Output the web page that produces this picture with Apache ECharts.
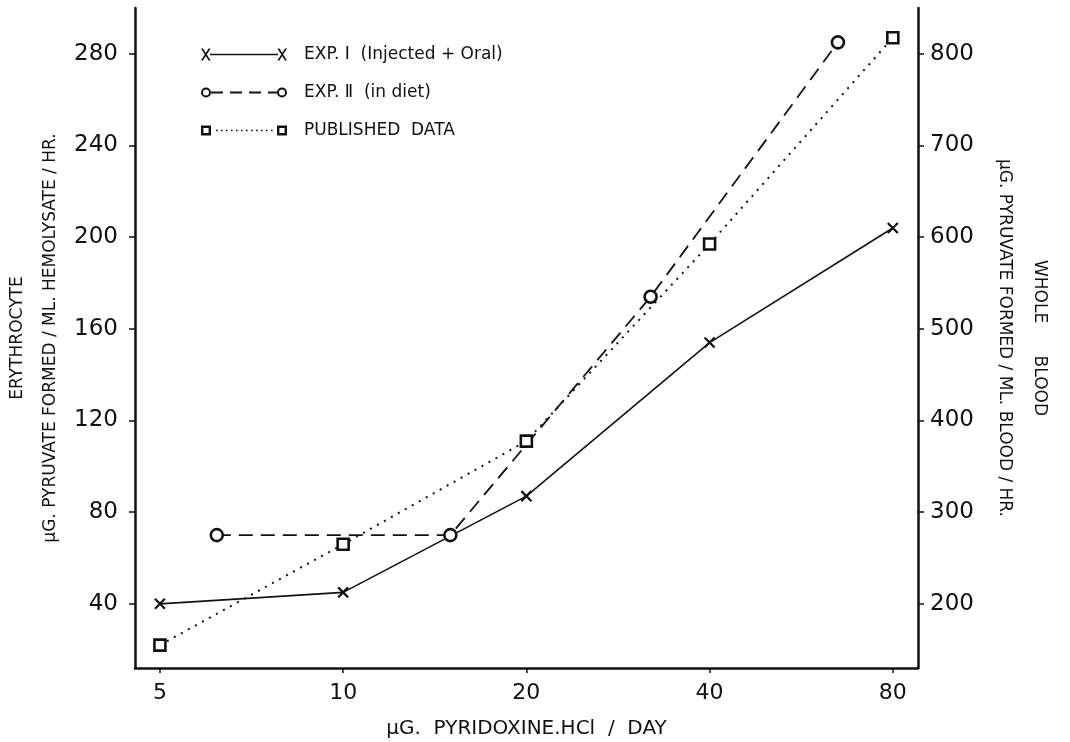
<!DOCTYPE html>
<html>
<head>
<meta charset="utf-8">
<script src="https://cdn.jsdelivr.net/npm/echarts@6/dist/echarts.min.js"></script>
<style>
  html, body { margin: 0; padding: 0; background: #fff; }
  #chart { width: 1070px; height: 742px; }
</style>
</head>
<body>
<div id="chart"></div>
<script>
// Axis ticks
const doseTicks = [5, 10, 20, 40, 80];
const leftTicks = [40, 80, 120, 160, 200, 240, 280];
const rightTicks = [200, 300, 400, 500, 600, 700, 800];

// Experiment I (injected + oral)
const exp1Dose = [5, 10, 20, 40, 80];
const exp1Values = [40, 45, 87, 154, 204];

// Experiment II (in diet)
const exp2Dose = [6.2, 15, 32, 65];
const exp2Values = [70, 70, 174, 285];

// Published data
const publishedDose = [5, 10, 20, 40, 80];
const publishedValues = [22, 66, 111, 197, 287];

const FONT = 'DejaVu Sans';
const INK = '#111';

const zip = (xs, ys) => xs.map((x, i) => [x, ys[i]]);

// Legend glyphs: marker - line - marker
const iconCross =
  'path://M0,0L2,0L9.6,12L7.6,12ZM7.6,0L9.6,0L2,12L0,12Z' +
  'M9,5.3H77V6.7H9Z' +
  'M76.4,0L78.4,0L86,12L84,12ZM84,0L86,0L78.4,12L76.4,12Z';
const ring = (cx) =>
  `M${cx - 5},6A5,5 0 1,0 ${cx + 5},6A5,5 0 1,0 ${cx - 5},6Z` +
  `M${cx - 3},6A3,3 0 1,1 ${cx + 3},6A3,3 0 1,1 ${cx - 3},6Z`;
const iconCircle =
  'path://' + ring(5) +
  'M10,5.1H22V6.9H10Z M29,5.1H41V6.9H29Z M48,5.1H60V6.9H48Z M67,5.1H76V6.9H67Z' +
  ring(81);
const box = (x) =>
  `M${x},1H${x + 10}V11H${x}Z M${x + 2.4},3.4V8.6H${x + 7.6}V3.4Z`;
let dots = '';
for (let x = 15; x < 74; x += 5) dots += `M${x},5.2H${x + 1.6}V6.8H${x}Z`;
const iconSquare = 'path://' + box(0) + dots + box(76);

const chart = echarts.init(document.getElementById('chart'));

chart.setOption({
  backgroundColor: '#fff',
  animation: false,
  textStyle: { fontFamily: FONT, color: INK },
  grid: { left: 135, right: 152, top: 8, bottom: 74, outerBoundsMode: 'none', containLabel: false },
  legend: {
    orient: 'vertical',
    left: 196,
    top: 41,
    itemWidth: 86,
    itemHeight: 12,
    itemGap: 21,
    textStyle: { fontFamily: FONT, fontSize: 17, color: INK, padding: [0, 0, 0, 12] },
    data: [
      { name: 'EXP. Ⅰ  (Injected + Oral)', icon: iconCross, itemStyle: { color: INK, borderWidth: 0 } },
      { name: 'EXP. Ⅱ  (in diet)', icon: iconCircle, itemStyle: { color: INK, borderWidth: 0 } },
      { name: 'PUBLISHED  DATA', icon: iconSquare, itemStyle: { color: INK, borderWidth: 0 } }
    ]
  },
  xAxis: {
    type: 'log',
    logBase: 2,
    min: 4.55,
    max: 88,
    name: 'μG.  PYRIDOXINE.HCl  /  DAY',
    nameLocation: 'middle',
    nameGap: 51,
    nameTextStyle: { fontFamily: FONT, fontSize: 20, color: INK },
    axisLine: { lineStyle: { color: INK, width: 2.5 } },
    axisTick: { customValues: doseTicks, length: 5, lineStyle: { color: INK, width: 1.5 } },
    axisLabel: { customValues: doseTicks, fontFamily: FONT, fontSize: 22, color: INK, margin: 14 },
    splitLine: { show: false },
    minorTick: { show: false }
  },
  yAxis: [
    {
      type: 'value',
      position: 'left',
      min: 12,
      max: 300,
      name: 'ERYTHROCYTE\nμG. PYRUVATE FORMED / ML. HEMOLYSATE / HR.',
      nameLocation: 'middle',
      nameRotate: 90,
      nameGap: 68,
      nameMoveOverlap: false,
      nameTextStyle: { fontFamily: FONT, fontSize: 17, color: INK, lineHeight: 33 },
      axisLine: { show: true, lineStyle: { color: INK, width: 2.5 } },
      axisTick: { show: true, customValues: leftTicks, length: 6, lineStyle: { color: INK, width: 1.5 } },
      axisLabel: { customValues: leftTicks, fontFamily: FONT, fontSize: 23, color: INK, margin: 17 },
      splitLine: { show: false }
    },
    {
      type: 'value',
      position: 'right',
      min: 130,
      max: 850,
      name: 'WHOLE      BLOOD\nμG. PYRUVATE FORMED / ML. BLOOD / HR.',
      nameLocation: 'middle',
      nameRotate: -90,
      nameGap: 69,
      nameTextStyle: { fontFamily: FONT, fontSize: 17, color: INK, lineHeight: 35 },
      axisLine: { show: true, lineStyle: { color: INK, width: 2.5 } },
      axisTick: { show: true, customValues: rightTicks, length: 6, lineStyle: { color: INK, width: 1.5 } },
      axisLabel: { customValues: rightTicks, fontFamily: FONT, fontSize: 23, color: INK, margin: 12 },
      splitLine: { show: false }
    }
  ],
  series: [
    {
      name: 'EXP. Ⅰ  (Injected + Oral)',
      type: 'line',
      yAxisIndex: 0,
      data: zip(exp1Dose, exp1Values),
      symbol: 'path://M0,0L10,10M10,0L0,10',
      symbolSize: 10,
      itemStyle: { color: INK, borderColor: INK, borderWidth: 2.2 },
      lineStyle: { color: INK, width: 1.6, type: 'solid' }
    },
    {
      name: 'EXP. Ⅱ  (in diet)',
      type: 'line',
      yAxisIndex: 0,
      data: zip(exp2Dose, exp2Values),
      symbol: 'circle',
      symbolSize: 12,
      itemStyle: { color: '#fff', borderColor: INK, borderWidth: 2.6 },
      lineStyle: { color: INK, width: 1.8, type: [14, 8] }
    },
    {
      name: 'PUBLISHED  DATA',
      type: 'line',
      yAxisIndex: 0,
      data: zip(publishedDose, publishedValues),
      symbol: 'rect',
      symbolSize: 11,
      itemStyle: { color: '#fff', borderColor: INK, borderWidth: 2.6 },
      lineStyle: { color: INK, width: 2, type: [2, 6] }
    }
  ]
});
</script>
</body>
</html>
